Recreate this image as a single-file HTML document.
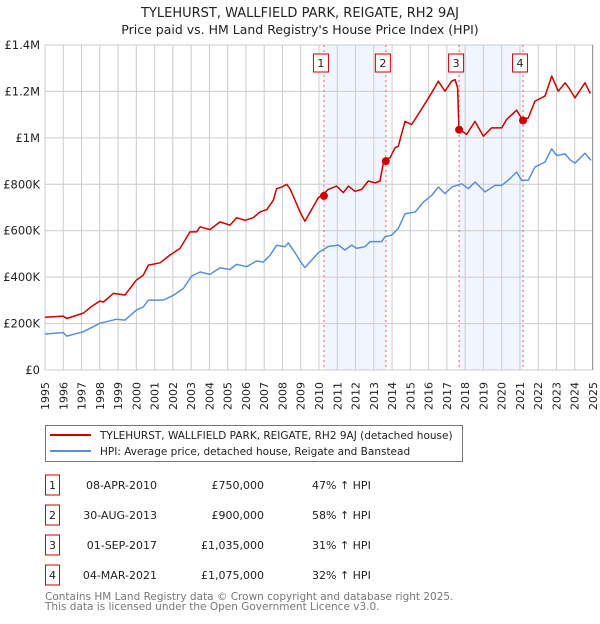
<!DOCTYPE html>
<html><head><meta charset="utf-8"><style>
body{margin:0;background:#fff;font-family:"DejaVu Sans","Liberation Sans",sans-serif;}
svg text{font-family:"DejaVu Sans","Liberation Sans",sans-serif;}
</style></head><body>
<svg id="chart" width="600" height="620" xmlns="http://www.w3.org/2000/svg">
<text x="300" y="17" text-anchor="middle" font-size="13" fill="#222">TYLEHURST, WALLFIELD PARK, REIGATE, RH2 9AJ</text>
<text x="300" y="34" text-anchor="middle" font-size="12.5" fill="#222">Price paid vs. HM Land Registry's House Price Index (HPI)</text>
<g id="bands"></g><g id="grid"></g><g id="vlines"></g><g id="series"></g><g id="axes"></g>
<rect x="45.5" y="425.5" width="417" height="36" fill="#fff" stroke="#777"/>
<line x1="50" y1="435" x2="91" y2="435" stroke="#cc0000" stroke-width="2"/>
<text x="100" y="439" font-size="10.5" fill="#222">TYLEHURST, WALLFIELD PARK, REIGATE, RH2 9AJ (detached house)</text>
<line x1="50" y1="451" x2="91" y2="451" stroke="#5b8fd4" stroke-width="2"/>
<text x="100" y="455" font-size="10.5" fill="#222">HPI: Average price, detached house, Reigate and Banstead</text>
<g id="table" font-size="11" fill="#222"></g>
<text x="45" y="600" font-size="10.5" fill="#777">Contains HM Land Registry data © Crown copyright and database right 2025.</text>
<text x="45" y="610" font-size="10.5" fill="#777">This data is licensed under the Open Government Licence v3.0.</text>
</svg>
<script>
const hpiYears=[1995,1996,1996.19,1997.1,1998,1998.92,1999.38,2000,2000.38,2000.66,2001.48,2002.03,2002.57,2003.03,2003.49,2004.03,2004.58,2005.13,2005.49,2006.04,2006.59,2006.95,2007.32,2007.68,2008.14,2008.32,2008.69,2008.96,2009.23,2009.96,2010.51,2011.06,2011.42,2011.79,2012.06,2012.52,2012.79,2013.43,2013.61,2013.98,2014.34,2014.71,2015.26,2015.71,2016.17,2016.53,2016.9,2017.26,2017.81,2018.18,2018.54,2019.09,2019.64,2020.0,2020.36,2020.82,2021.09,2021.46,2021.82,2022.37,2022.74,2023.01,2023.47,2023.74,2024.01,2024.56,2024.89];
const hpiValues=[155,161,146,165,201,219,215,258,272,301,301,322,351,405,422,412,440,433,455,445,470,465,494,537,531,548,505,470,441,505,532,538,517,538,524,531,553,553,574,581,610,673,680,723,752,788,760,788,802,781,810,767,795,795,817,853,817,817,874,896,953,924,931,906,891,934,903];
const propYears=[1995,1996,1996.19,1997.1,1997.55,1998,1998.2,1998.74,1999.38,2000,2000.38,2000.66,2001.3,2001.84,2002.39,2002.94,2003.3,2003.49,2004.03,2004.58,2005.13,2005.49,2005.95,2006.4,2006.77,2007.14,2007.5,2007.68,2007.96,2008.23,2008.41,2008.69,2008.96,2009.23,2009.96,2010.24,2010.51,2010.97,2011.33,2011.61,2011.97,2012.34,2012.7,2013.07,2013.34,2013.56,2013.89,2014.16,2014.34,2014.71,2015.07,2015.71,2016.17,2016.53,2016.9,2017.26,2017.45,2017.59,2017.66,2018.08,2018.54,2019.0,2019.45,2020.0,2020.27,2020.82,2021.13,2021.46,2021.82,2022.37,2022.74,2023.1,2023.47,2023.74,2024.01,2024.56,2024.85];
const propValues=[227,232,222,245,274,297,293,330,323,387,409,452,462,495,524,595,595,617,605,638,624,656,645,656,681,691,731,781,788,800,781,731,681,641,742,757,778,792,764,792,770,778,814,806,814,907,914,957,964,1071,1057,1136,1194,1244,1201,1244,1251,1215,1039,1015,1071,1007,1043,1043,1079,1119,1079,1086,1158,1180,1266,1201,1237,1208,1172,1237,1191];
const saleYears=[2010.27,2013.66,2017.67,2021.17];
const saleValues=[750,900,1035,1075];
const saleDates=["08-APR-2010","30-AUG-2013","01-SEP-2017","04-MAR-2021"];
const salePrices=["£750,000","£900,000","£1,035,000","£1,075,000"];
const saleHpi=["47% ↑ HPI","58% ↑ HPI","31% ↑ HPI","32% ↑ HPI"];
const yTicks=[0,200,400,600,800,1000,1200,1400];
const yTickLabels=["£0","£200K","£400K","£600K","£800K","£1M","£1.2M","£1.4M"];
const xTicks=[1995,1996,1997,1998,1999,2000,2001,2002,2003,2004,2005,2006,2007,2008,2009,2010,2011,2012,2013,2014,2015,2016,2017,2018,2019,2020,2021,2022,2023,2024,2025];

const NS="http://www.w3.org/2000/svg";
const X=y=>45+(y-1995)*(548/30);
const Y=v=>370-v*(325/1400);
function mk(tag,attrs,parent,txt){const e=document.createElementNS(NS,tag);for(const k in attrs)e.setAttribute(k,attrs[k]);if(txt!==undefined)e.textContent=txt;document.getElementById(parent).appendChild(e);return e;}
for(let i=0;i<saleYears.length;i+=2){
 const r=mk('rect',{x:X(saleYears[i]),y:Y(1400),width:X(saleYears[i+1])-X(saleYears[i]),height:Y(0)-Y(1400),fill:'#eef3fc',opacity:0.8},'bands');
 
 
}
xTicks.forEach(t=>{const l=mk('line',{x1:X(t),x2:X(t),y1:Y(1400),y2:Y(0),stroke:'#ccc','stroke-width':1},'grid');
 
 
 const tx=mk('text',{transform:`translate(${X(t)+4},382) rotate(-90)`,'text-anchor':'end','font-size':11,fill:'#222'},'axes',String(t));
 
 
});
yTicks.forEach((t,i)=>{const l=mk('line',{x1:X(1995),x2:X(2025),y1:Y(t),y2:Y(t),stroke:'#ccc','stroke-width':1},'grid');
 
 
 const tx=mk('text',{x:40,y:Y(t)+4,'text-anchor':'end','font-size':11.5,fill:'#222'},'axes',yTickLabels[i]);
 
 
});
const edge=mk('line',{x1:X(2025)-0.5,x2:X(2025)-0.5,y1:Y(1400),y2:Y(0),stroke:'#999','stroke-width':1},'axes');


saleYears.forEach((s,i)=>{const l=mk('line',{x1:X(s),x2:X(s),y1:Y(1400),y2:Y(0),stroke:'#f06060','stroke-width':1,'stroke-dasharray':'2,3'},'vlines');
 
 
 const bx=X(s)-3;
 const r=mk('rect',{x:bx-7.5,y:54,width:15,height:18,fill:'#fff',stroke:'#cc0000'},'vlines');
 
 
 const t=mk('text',{x:bx,y:67,'text-anchor':'middle','font-size':11,fill:'#222'},'vlines',String(i+1));
 
 
});
function path(xs,vs,color,name){const d=xs.map((x,i)=>(i?'L':'M')+X(x).toFixed(1)+','+Y(vs[i]).toFixed(1)).join('');
 const p=mk('path',{d:d,fill:'none',stroke:color,'stroke-width':1.5,'stroke-linejoin':'round'},'series');
 
 }
path(hpiYears,hpiValues,'#5b8fd4','hpi-line');
path(propYears,propValues,'#cc0000','property-price-line');
saleYears.forEach((s,i)=>{const c=mk('circle',{cx:X(s),cy:Y(saleValues[i]),r:4,fill:'#cc0000'},'series');
 
 });
saleDates.forEach((d,i)=>{const cy=485+i*30;
 const r=mk('rect',{x:45.5,y:cy-10,width:14,height:20,fill:'#fff',stroke:'#cc0000'},'table');
 
 
 const n=mk('text',{x:52.5,y:cy+4,'text-anchor':'middle'},'table',String(i+1));
 
 
 const a=mk('text',{x:157,y:cy+4,'text-anchor':'end'},'table',d);
 
 
 const b=mk('text',{x:264,y:cy+4,'text-anchor':'end'},'table',salePrices[i]);
 
 
 const c=mk('text',{x:312,y:cy+4},'table',saleHpi[i]);
 
 
});
</script>
</body></html>
